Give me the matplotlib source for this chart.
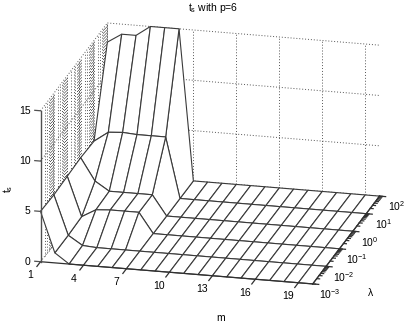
import matplotlib
matplotlib.use("Agg")
import matplotlib.pyplot as plt
from mpl_toolkits.mplot3d import proj3d
import numpy as np

plt.rcParams['font.family'] = ['Liberation Sans', 'DejaVu Sans']
plt.rcParams['font.size'] = 7.5
plt.rcParams['mathtext.default'] = 'regular'

m = list(range(1, 21))
lam_exp = [-3, -2, -1, 0, 1, 2]
m_ticks = [1, 4, 7, 10, 13, 16, 19]
z_ticks = [0, 5, 10, 15]

ts_1e_3 = [5, 1, 0, 0, 0, 0, 0, 0, 0, 0, 0, 0, 0, 0, 0, 0, 0, 0, 0, 0]
ts_1e_2 = [4.9, 1, 0.1, 0, 0, 0, 0, 0, 0, 0, 0, 0, 0, 0, 0, 0, 0, 0, 0, 0]
ts_1e_1 = [5, 1.1, 1.9, 2, 2, 2, 0, 0, 0, 0, 0, 0, 0, 0, 0, 0, 0, 0, 0, 0]
ts_1e0 = [5.1, 2.9, 2, 2, 2, 2, 0, 0, 0, 0, 0, 0, 0, 0, 0, 0, 0, 0, 0, 0]
ts_1e1 = [5, 6, 6.1, 6, 6, 6, 0, 0, 0, 0, 0, 0, 0, 0, 0, 0, 0, 0, 0, 0]
ts_1e2 = [13.1, 14, 14, 15, 15, 15, 0, 0, 0, 0, 0, 0, 0, 0, 0, 0, 0, 0, 0, 0]

Z = np.array([ts_1e_3, ts_1e_2, ts_1e_1, ts_1e0, ts_1e1, ts_1e2])
X, Y = np.meshgrid(m, lam_exp)

fig = plt.figure(figsize=(4.11, 3.26), dpi=100)
ax = fig.add_axes([-1 / 411, -38.5 / 326, 1, 411 / 326], projection='3d', computed_zorder=False)
ax.set_proj_type('ortho')
ax.view_init(elev=19.1, azim=-76.0)
ax.set_box_aspect((281, 277, 160), zoom=1.004)
ax.set_xlim(1, 20, view_margin=0)
ax.set_ylim(-3, 2, view_margin=0)
ax.set_zlim(0, 15, view_margin=0)
ax.set_axis_off()


def label(x, y, z, s, **kw):
    # plain 2D text at the projected spot of a 3D point
    px, py, _ = proj3d.proj_transform(x, y, z, ax.get_proj())
    ax.text2D(px, py, s, transform=ax.transData, va='center', **kw)


grid = dict(color='#555555', lw=0.7, ls=(0, (1, 2)), zorder=1)
minor_lam = [e + np.log10(k) for e in lam_exp[:-1] for k in range(1, 10)] + [lam_exp[-1]]

# walls
for y in minor_lam:
    ax.plot([1, 1], [y, y], [0, 15], **grid)
for z in z_ticks:
    ax.plot([1, 1], [-3, 2], [z, z], **grid)
    ax.plot([1, 20], [2, 2], [z, z], **grid)
for t in m_ticks:
    ax.plot([t, t], [2, 2], [0, 15], **grid)

ax.plot_surface(X, Y, Z, rstride=1, cstride=1, color='white', edgecolor='#3a3a3a',
                linewidth=0.8, shade=False, antialiased=True, zorder=2)

# axes and ticks
axc = dict(color='#303030', lw=0.9, zorder=3)
ax.plot([1, 20], [-3, -3], [0, 0], **axc)
ax.plot([20, 20], [-3, 2], [0, 0], **axc)
ax.plot([1, 1], [-3, -3], [0, 15], color='#505050', lw=1.0, zorder=3)

for t in m_ticks:
    ax.plot([t, t], [-3, -3.27], [0, 0], **axc)
    label(t, -3.76, 0, str(t), ha='center')
for y in minor_lam:
    ax.plot([20, 20.2], [y, y], [0, 0], **axc)
for e in lam_exp:
    ax.plot([20, 20.42], [e, e], [0, 0], **axc)
    label(21.2, e, -0.9, '$10^{%d}$' % e, ha='center')
for z in z_ticks:
    ax.plot([1, 0.6], [-3, -3], [z, z], color='#505050', lw=0.9, zorder=3)
    label(1 - 0.656, -3 - 0.043, z, str(z), ha='right')

fig.text(213 / 411, 1 - 8 / 326, '$t_s$ with p=6', ha='center', va='center')
fig.text(8 / 411, 1 - 189 / 326, '$t_s$', rotation=90, ha='center', va='center')
fig.text(221 / 411, 1 - 318 / 326, 'm', ha='center', va='center')
fig.text(371 / 411, 1 - 293 / 326, 'λ', ha='center', va='center')

fig.savefig('out.png', dpi=100)
